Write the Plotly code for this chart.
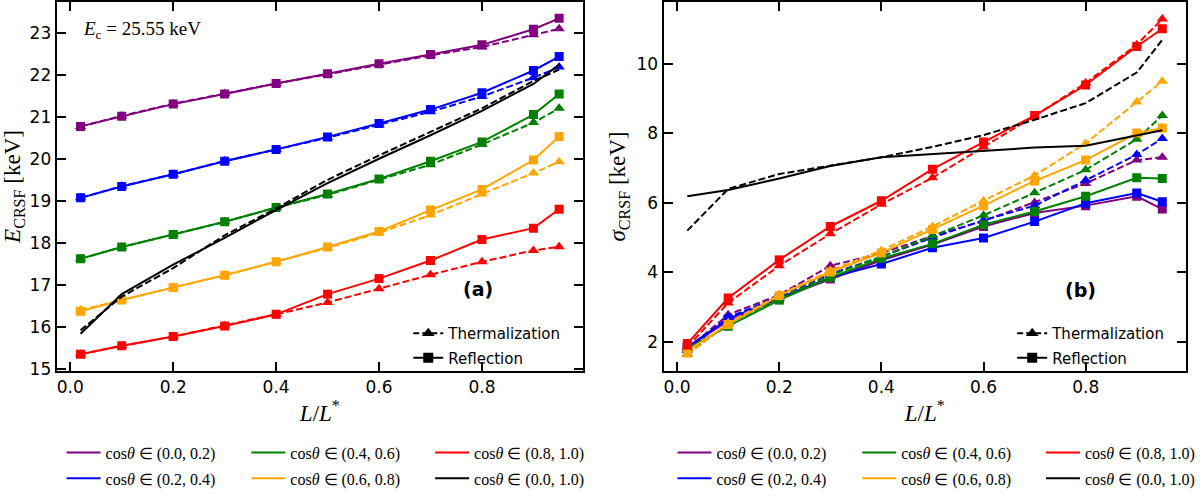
import plotly.graph_objects as go

# ---------------- data ----------------
lum = [0.02, 0.1, 0.2, 0.3, 0.4, 0.5, 0.6, 0.7, 0.8, 0.9, 0.95]

bin_labels = ["cos<i>θ</i> ∈ (0.0, 0.2)", "cos<i>θ</i> ∈ (0.2, 0.4)", "cos<i>θ</i> ∈ (0.4, 0.6)",
              "cos<i>θ</i> ∈ (0.6, 0.8)", "cos<i>θ</i> ∈ (0.8, 1.0)", "cos<i>θ</i> ∈ (0.0, 1.0)"]
bin_colors = ["#800080", "#0000ff", "#008000", "#ffa500", "#ff0000", "#000000"]

# panel (a): E_CRSF [keV]
e_refl_00_02 = [20.77, 21.01, 21.30, 21.54, 21.79, 22.02, 22.26, 22.48, 22.71, 23.08, 23.34]
e_ther_00_02 = [20.77, 21.02, 21.31, 21.55, 21.79, 22.01, 22.24, 22.46, 22.66, 22.95, 23.09]
e_refl_02_04 = [19.07, 19.34, 19.63, 19.94, 20.22, 20.52, 20.84, 21.17, 21.57, 22.10, 22.43]
e_ther_02_04 = [19.07, 19.35, 19.63, 19.95, 20.22, 20.50, 20.81, 21.12, 21.48, 21.93, 22.18]
e_refl_04_06 = [17.62, 17.90, 18.20, 18.50, 18.84, 19.16, 19.52, 19.94, 20.40, 21.05, 21.54]
e_ther_04_06 = [17.62, 17.90, 18.20, 18.50, 18.84, 19.14, 19.50, 19.86, 20.34, 20.86, 21.20]
e_refl_06_08 = [16.37, 16.64, 16.94, 17.23, 17.55, 17.90, 18.27, 18.78, 19.27, 19.97, 20.53]
e_ther_06_08 = [16.40, 16.64, 16.94, 17.23, 17.55, 17.88, 18.24, 18.66, 19.16, 19.66, 19.93]
e_refl_08_10 = [15.35, 15.55, 15.77, 16.02, 16.30, 16.78, 17.15, 17.58, 18.08, 18.35, 18.80]
e_ther_08_10 = [15.35, 15.55, 15.77, 16.03, 16.30, 16.58, 16.91, 17.24, 17.55, 17.82, 17.91]
e_refl_00_10 = [15.84, 16.78, 17.48, 18.12, 18.78, 19.42, 20.00, 20.56, 21.14, 21.78, 22.24]
e_ther_00_10 = [15.92, 16.72, 17.40, 18.18, 18.82, 19.50, 20.08, 20.64, 21.20, 21.85, 22.12]

# panel (b): sigma_CRSF [keV]
s_refl_00_02 = [1.85, 2.60, 3.25, 3.81, 4.35, 4.80, 5.32, 5.71, 5.92, 6.19, 5.82]
s_ther_00_02 = [1.80, 2.78, 3.35, 4.19, 4.55, 5.05, 5.48, 6.01, 6.56, 7.23, 7.31]
s_refl_02_04 = [1.85, 2.66, 3.26, 3.85, 4.24, 4.71, 4.99, 5.46, 5.99, 6.28, 6.03]
s_ther_02_04 = [1.75, 2.70, 3.30, 3.95, 4.45, 5.00, 5.50, 5.92, 6.65, 7.39, 7.85]
s_refl_04_06 = [1.80, 2.45, 3.20, 3.85, 4.40, 4.82, 5.37, 5.75, 6.19, 6.72, 6.70]
s_ther_04_06 = [1.65, 2.52, 3.25, 3.92, 4.45, 5.05, 5.64, 6.29, 6.95, 7.83, 8.51]
s_refl_06_08 = [1.75, 2.50, 3.33, 4.01, 4.56, 5.23, 5.92, 6.63, 7.23, 8.01, 8.15]
s_ther_06_08 = [1.62, 2.55, 3.35, 4.05, 4.63, 5.32, 6.06, 6.79, 7.71, 8.90, 9.50]
s_refl_08_10 = [1.95, 3.26, 4.36, 5.32, 6.06, 6.97, 7.75, 8.51, 9.39, 10.50, 11.01]
s_ther_08_10 = [1.85, 3.12, 4.19, 5.11, 5.96, 6.72, 7.61, 8.50, 9.45, 10.55, 11.29]
s_refl_00_10 = [6.19, 6.37, 6.70, 7.06, 7.31, 7.40, 7.48, 7.59, 7.64, 7.94, 8.09]
s_ther_00_10 = [5.20, 6.40, 6.83, 7.06, 7.31, 7.61, 7.95, 8.39, 8.87, 9.75, 10.69]

e_refl = [e_refl_00_02, e_refl_02_04, e_refl_04_06, e_refl_06_08, e_refl_08_10, e_refl_00_10]
e_ther = [e_ther_00_02, e_ther_02_04, e_ther_04_06, e_ther_06_08, e_ther_08_10, e_ther_00_10]
s_refl = [s_refl_00_02, s_refl_02_04, s_refl_04_06, s_refl_06_08, s_refl_08_10, s_refl_00_10]
s_ther = [s_ther_00_02, s_ther_02_04, s_ther_04_06, s_ther_06_08, s_ther_08_10, s_ther_00_10]

# ---------------- figure ----------------
W, H = 1200, 496
fig = go.Figure()
DASH = "7px,3px"
SANS = "DejaVu Sans"
SERIF = "Liberation Serif"

for xa, ya, refl, ther in (("x", "y", e_refl, e_ther), ("x2", "y2", s_refl, s_ther)):
    for i, col in enumerate(bin_colors):
        has_marker = i < 5
        fig.add_trace(go.Scatter(
            x=lum, y=ther[i], xaxis=xa, yaxis=ya, showlegend=False,
            mode="lines+markers" if has_marker else "lines",
            line=dict(color=col, width=2, dash=DASH),
            marker=dict(symbol="triangle-up", size=10, color=col)))
        fig.add_trace(go.Scatter(
            x=lum, y=refl[i], xaxis=xa, yaxis=ya, showlegend=False,
            mode="lines+markers" if has_marker else "lines",
            line=dict(color=col, width=2),
            marker=dict(symbol="square", size=9, color=col)))

# in-panel legends (style keys)
for xa, ya, lg in (("x", "y", "legend"), ("x2", "y2", "legend2")):
    fig.add_trace(go.Scatter(x=[None], y=[None], xaxis=xa, yaxis=ya, legend=lg,
                             legendgroup=lg + "t",
                             name="Thermalization", mode="lines+markers",
                             line=dict(color="black", width=2, dash="6px,3px"),
                             marker=dict(symbol="triangle-up", size=11, color="black")))
    fig.add_trace(go.Scatter(x=[None], y=[None], xaxis=xa, yaxis=ya, legend=lg,
                             legendgroup=lg + "r",
                             name="Reflection", mode="lines+markers",
                             line=dict(color="black", width=2),
                             marker=dict(symbol="square", size=10, color="black")))

# bottom legends (colour keys), 3 columns x 2 rows per panel
col_groups = [[0, 1], [2, 3], [4, 5]]
for p, (xa, ya) in enumerate((("x", "y"), ("x2", "y2"))):
    for c, grp in enumerate(col_groups):
        lg = "legend%d" % (3 + p * 3 + c)
        for i in grp:
            fig.add_trace(go.Scatter(x=[None], y=[None], xaxis=xa, yaxis=ya, legend=lg,
                                     legendgroup="%s_%d" % (lg, i),
                                     name=bin_labels[i], mode="lines",
                                     line=dict(color=bin_colors[i], width=2)))

def px_x(v):
    return v / W

def px_y(v):
    return 1 - v / H

x_dom_a = [px_x(57), px_x(587)]
x_dom_b = [px_x(668), px_x(1194)]
y_dom = [px_y(384), px_y(1)]

axis_common = dict(showline=True, linewidth=2, linecolor="black", mirror="allticks",
                   ticks="inside", ticklen=9, tickwidth=1.5, tickcolor="black",
                   showgrid=False, zeroline=False,
                   tickfont=dict(family=SANS, size=17, color="black"))

title_font = dict(family=SERIF, size=23, color="black")

fig.update_layout(
    width=W, height=H, margin=dict(l=0, r=0, t=0, b=0),
    paper_bgcolor="white", plot_bgcolor="white",
    xaxis=dict(domain=x_dom_a, anchor="y", range=[-0.0265, 0.9965],
               tickvals=[0.0, 0.2, 0.4, 0.6, 0.8], ticktext=["0.0", "0.2", "0.4", "0.6", "0.8"],
               title=dict(text="<i>L</i>/<i>L</i><sup>*</sup>", font=title_font, standoff=8),
               **axis_common),
    yaxis=dict(domain=y_dom, anchor="x", range=[14.95, 23.73], dtick=1, tick0=15,
               title=dict(text="<i>E</i><sub>CRSF</sub> [keV]", font=title_font, standoff=4),
               **axis_common),
    xaxis2=dict(domain=x_dom_b, anchor="y2", range=[-0.0265, 0.9965],
                tickvals=[0.0, 0.2, 0.4, 0.6, 0.8], ticktext=["0.0", "0.2", "0.4", "0.6", "0.8"],
                title=dict(text="<i>L</i>/<i>L</i><sup>*</sup>", font=title_font, standoff=8),
                **axis_common),
    yaxis2=dict(domain=y_dom, anchor="x2", range=[1.16, 11.78], tickvals=[2, 4, 6, 8, 10],
                title=dict(text="<i>σ</i><sub>CRSF</sub> [keV]", font=title_font, standoff=4),
                **axis_common),
    legend=dict(x=px_x(411), y=px_y(328), xanchor="left", yanchor="top",
                bgcolor="rgba(0,0,0,0)", font=dict(family=SANS, size=15, color="black"),
                tracegroupgap=2, itemwidth=30),
    legend2=dict(x=px_x(1019), y=px_y(328), xanchor="left", yanchor="top",
                 bgcolor="rgba(0,0,0,0)", font=dict(family=SANS, size=15, color="black"),
                 tracegroupgap=2, itemwidth=30),
)

bottom_text_px = [108, 294, 479, 723, 909, 1094]
for k, xp in enumerate(bottom_text_px):
    fig.update_layout({"legend%d" % (3 + k): dict(
        x=px_x(xp - 46), y=px_y(451), xanchor="left", yanchor="top",
        bgcolor="rgba(0,0,0,0)", font=dict(family=SERIF, size=16, color="black"),
        tracegroupgap=2, itemwidth=34)})

fig.add_annotation(x=px_x(82), y=px_y(30), xref="paper", yref="paper", xanchor="left", yanchor="middle",
                   text="<i>E</i><sub>c</sub> = 25.55 keV", showarrow=False,
                   font=dict(family=SERIF, size=19, color="black"))
fig.add_annotation(x=px_x(481), y=px_y(299), xref="paper", yref="paper", xanchor="center", yanchor="middle",
                   text="<b>(a)</b>", showarrow=False, font=dict(family=SANS, size=19, color="black"))
fig.add_annotation(x=px_x(1088), y=px_y(300), xref="paper", yref="paper", xanchor="center", yanchor="middle",
                   text="<b>(b)</b>", showarrow=False, font=dict(family=SANS, size=19, color="black"))

fig.write_html("out.html")
